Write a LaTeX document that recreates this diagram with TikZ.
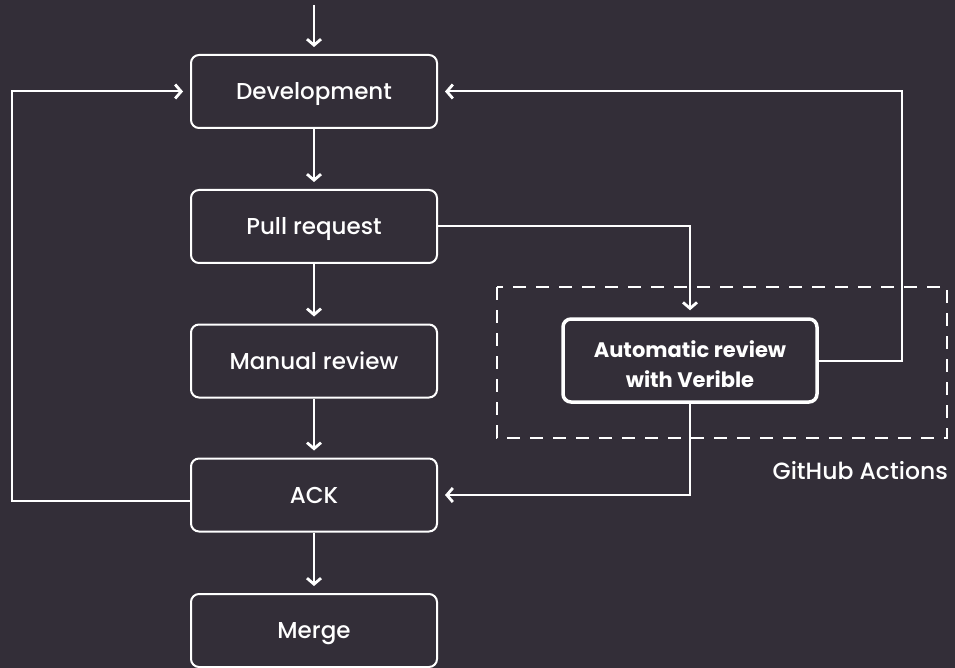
\documentclass[tikz,border=0pt]{standalone}
\usepackage{fontspec}
\setmainfont{Poppins}[Ligatures={NoCommon}, UprightFont={* Medium}, BoldFont={* Bold}]
\usetikzlibrary{arrows.meta}
\definecolor{bgdark}{RGB}{51,46,56}
\begin{document}
\begin{tikzpicture}[x=1pt,y=-1pt,
  stepbox/.style={draw=white, line width=2pt, rounded corners=8pt, fill=bgdark,
    minimum width=246pt, minimum height=73pt, text=white,
    text height=16pt, text depth=0pt, font=\fontsize{23}{26}\selectfont},
  autobox/.style={draw=white, line width=3.5pt, rounded corners=8pt, fill=bgdark,
    minimum width=254pt, minimum height=83pt},
  autolabel/.style={text=white, align=center, font=\bfseries\fontsize{21}{30}\selectfont},
  flow/.style={draw=white, line width=2pt, line join=miter,
    -{Straight Barb[length=6pt,width=14pt,line width=2.8pt]}, shorten >=7pt},
  grouplabel/.style={text=white, font=\fontsize{23.5}{26}\selectfont, inner sep=0pt}
]
\useasboundingbox[fill=bgdark] (0,0) rectangle (955,668);

% main column
\node[stepbox] (dev)    at (314,91.5) {Development};
\node[stepbox] (pr)     at (314,226.5) {Pull request};
\node[stepbox] (manual) at (314,361) {Manual review};
\node[stepbox] (ack)    at (314,495) {ACK};
\node[stepbox] (merge)  at (314,630.5) {Merge};

% GitHub Actions group
\draw[white, line width=2pt, dash pattern=on 13pt off 10pt] (497,287) rectangle (947,438);
\node[grouplabel, anchor=north east] (gha) at (948,461) {GitHub Actions};
\node[autobox] (auto) at (690,360.5) {};
\node[autolabel] (autotext) at (690,364) {Automatic review\\with Verible};

\coordinate (entry) at (314,5);
\coordinate (leftx) at (12,0);
\coordinate (rightx) at (902,0);

% vertical flow
\draw[flow] (entry) -- (dev);
\draw[flow] (dev) -- (pr);
\draw[flow] (pr) -- (manual);
\draw[flow] (manual) -- (ack);
\draw[flow] (ack) -- (merge);

% pull request to automatic review
\draw[flow] (pr.east) -| (auto.north);

% automatic review back to development
\draw[flow] (auto.east) -| (rightx |- dev.east) -- (dev.east);

% automatic review result into ACK
\draw[flow] (auto.south) |- (ack.east);

% ACK loop back to development
\draw[flow] ([yshift=-6pt]ack.west) -| (leftx |- dev.west) -- (dev.west);
\end{tikzpicture}
\end{document}
